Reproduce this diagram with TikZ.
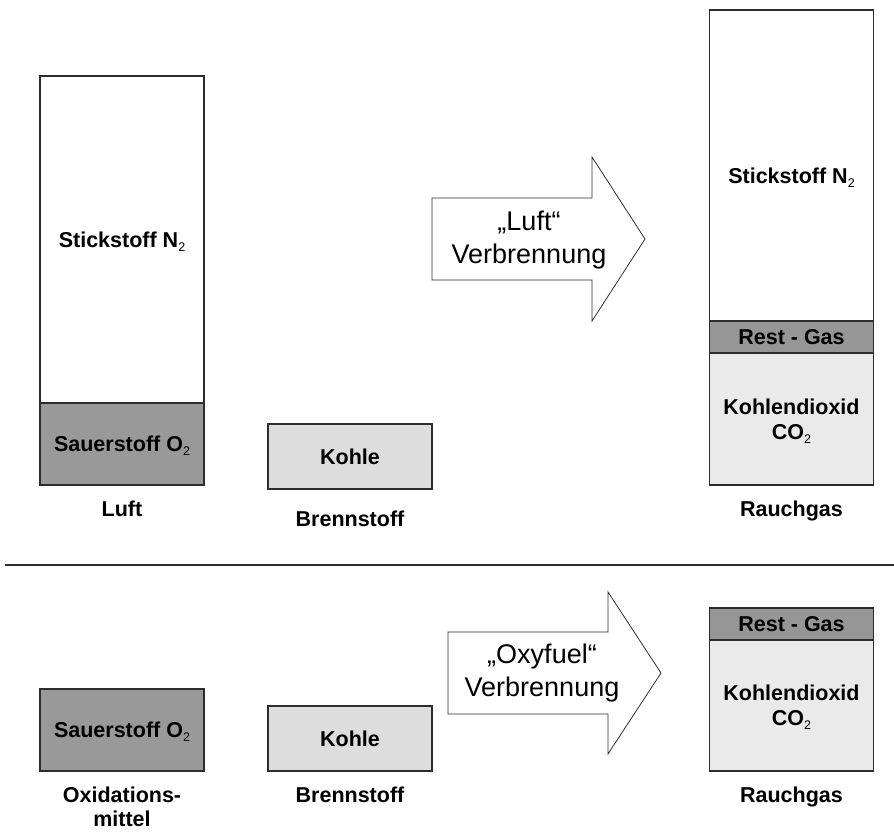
\documentclass[tikz,border=0pt]{standalone}
\usepackage{fontspec}
\setmainfont{Liberation Sans}
\usetikzlibrary{positioning}
\definecolor{otwogray}{RGB}{153,153,153}
\definecolor{restgray}{RGB}{150,150,150}
\definecolor{coalgray}{RGB}{221,221,221}
\definecolor{cotwogray}{RGB}{234,234,234}
\definecolor{edgegray}{RGB}{45,45,45}
\newcommand{\gassub}[1]{\raisebox{-4pt}[0pt][0pt]{\fontsize{12.5}{12.5}\selectfont\mdseries #1}}

\begin{document}
\begin{tikzpicture}[x=1pt, y=-1pt,
    gas/.style={rectangle, draw=edgegray, line width=1.2pt, minimum width=164pt,
                inner sep=0pt, align=center, font=\bfseries\fontsize{21.5}{25}\selectfont},
    caption/.style={inner sep=0pt, align=center, font=\bfseries\fontsize{21.5}{24}\selectfont},
    process/.style={draw=edgegray, line width=0.8pt, fill=white},
    proctext/.style={align=center, font=\fontsize{27}{33.5}\selectfont}
]
\useasboundingbox (0,0) rectangle (894,831);

% "Luft" Verbrennung
\node[gas, minimum height=327pt] (airN2) at (122,239.5) {Stickstoff N\gassub{2}};
\node[gas, fill=otwogray, minimum height=82pt] (airO2) at (122,444) {Sauerstoff O\gassub{2}};
\node[gas, fill=coalgray, minimum height=65pt] (coal) at (350,456.5) {Kohle};

\node[caption, below=15pt of airO2] (air) {Luft};
\node[caption, below=21pt of coal] (fuel) {Brennstoff};

\draw[process] (432,198) -- (592,198) -- (592,157) -- (645,239) -- (592,321)
    -- (592,280) -- (432,280) -- cycle;
\node[proctext] (airburn) at (529,240) {„Luft“\\Verbrennung};

\node[gas, minimum height=311pt] (fgN2) at (791.5,165.5) {};
\node[gas, draw=none] (fgN2text) at ([yshift=-10pt]fgN2.center) {Stickstoff N\gassub{2}};
\node[gas, fill=restgray, minimum height=32pt] (fgRest) at (791.5,337) {Rest - Gas};
\node[gas, fill=cotwogray, minimum height=132pt] (fgCO2) at (791.5,419) {Kohlendioxid\\CO\gassub{2}};
\node[caption, below=15pt of fgCO2] (fluegas) {Rauchgas};

\draw[edgegray, line width=1.2pt] (5,565) -- (894,565);

% "Oxyfuel" Verbrennung
\node[gas, fill=otwogray, minimum height=82pt] (oxyO2) at (122,730) {Sauerstoff O\gassub{2}};
\node[gas, fill=coalgray, minimum height=65pt] (oxycoal) at (350,738.5) {Kohle};

\node[caption, below=15pt of oxyO2] (oxidant) {Oxidations-\\mittel};
\node[caption, below=15pt of oxycoal] (oxyfuel) {Brennstoff};

\draw[process] (448,632) -- (608,632) -- (608,592) -- (661,673) -- (608,754)
    -- (608,714) -- (448,714) -- cycle;
\node[proctext] (oxyburn) at (542,673) {„Oxyfuel“\\Verbrennung};

\node[gas, fill=restgray, minimum height=32pt] (oxyRest) at (791.5,624) {Rest - Gas};
\node[gas, fill=cotwogray, minimum height=131pt] (oxyCO2) at (791.5,705.5) {Kohlendioxid\\CO\gassub{2}};
\node[caption, below=15pt of oxyCO2] (oxyfluegas) {Rauchgas};

\end{tikzpicture}
\end{document}
